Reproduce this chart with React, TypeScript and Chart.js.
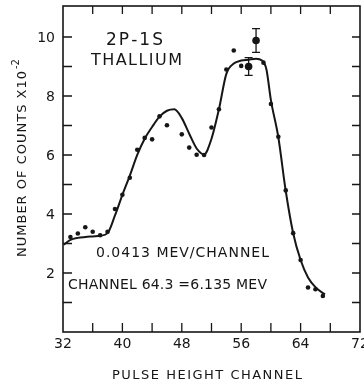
import React, { useEffect, useRef } from "react";
import { Chart, registerables } from "chart.js";

Chart.register(...registerables);

// Measured points (pulse height channel -> counts x 10^-2)
const channels = [33, 34, 35, 36, 37, 38, 39, 40, 41, 42, 43, 44, 45, 46, 48, 49, 50, 51, 52, 53, 54, 55, 56, 59, 60, 61, 62, 63, 64, 65, 66, 67];
const counts = [3.22, 3.34, 3.55, 3.4, 3.28, 3.4, 4.17, 4.65, 5.23, 6.18, 6.58, 6.53, 7.31, 7.01, 6.7, 6.25, 6.01, 6.0, 6.93, 7.55, 8.9, 9.54, 9.02, 9.13, 7.73, 6.62, 4.8, 3.35, 2.44, 1.51, 1.45, 1.22];

// Points drawn with error bars
const errChannels = [57, 58];
const errCounts = [9.0, 9.88];
const errMinus = [0.3, 0.4];
const errPlus = [0.3, 0.4];

// Fitted smooth curve
const curveChannels = [32.1, 33, 34, 35, 36, 37, 38, 39, 40, 41, 42, 43, 44, 45, 46, 47, 48, 49, 50, 51, 52, 53, 54, 55, 56, 57, 58, 58.8, 59.4, 60, 61, 62, 63, 64, 65, 66, 67, 67.3];
const curveCounts = [2.96, 3.12, 3.19, 3.22, 3.24, 3.26, 3.35, 3.95, 4.65, 5.3, 6.0, 6.55, 6.95, 7.3, 7.5, 7.55, 7.25, 6.72, 6.22, 6.02, 6.55, 7.55, 8.75, 9.1, 9.2, 9.23, 9.26, 9.2, 8.9, 7.86, 6.6, 4.78, 3.35, 2.44, 1.85, 1.52, 1.32, 1.28];

// Axes
const xTickValues = [36, 40, 44, 48, 52, 56, 60, 64, 68];
const xLabelValues = [32, 40, 48, 56, 64, 72];
const yTickValues = [1, 2, 3, 4, 5, 6, 7, 8, 9, 10];
const yLabelValues = [2, 4, 6, 8, 10];

const INK = "#161616";
const FONT = "'DejaVu Sans', sans-serif";

function drawSpaced(ctx: CanvasRenderingContext2D, text: string, x: number, y: number, target: number) {
  const chars = Array.from(text);
  let total = 0;
  const widths = chars.map((c) => {
    const w = ctx.measureText(c).width;
    total += w;
    return w;
  });
  const gap = chars.length > 1 ? (target - total) / (chars.length - 1) : 0;
  let cx = x;
  ctx.textAlign = "left";
  chars.forEach((c, i) => {
    ctx.fillText(c, cx, y);
    cx += widths[i] + gap;
  });
}

const decorPlugin = {
  id: "decor",
  afterDraw(chart: any) {
    const ctx: CanvasRenderingContext2D = chart.ctx;
    const xs = chart.scales.x;
    const ys = chart.scales.y;
    const { left, right, top, bottom } = chart.chartArea;
    ctx.save();
    ctx.strokeStyle = INK;
    ctx.fillStyle = INK;

    // frame
    ctx.lineWidth = 1.6;
    ctx.strokeRect(left, top, right - left, bottom - top);

    // inward ticks
    ctx.lineWidth = 1.3;
    ctx.beginPath();
    xTickValues.forEach((v) => {
      const px = xs.getPixelForValue(v);
      ctx.moveTo(px, bottom);
      ctx.lineTo(px, bottom - 9);
      ctx.moveTo(px, top);
      ctx.lineTo(px, top + 8);
    });
    yTickValues.forEach((v) => {
      const py = ys.getPixelForValue(v);
      ctx.moveTo(left, py);
      ctx.lineTo(left + 9, py);
      ctx.moveTo(right, py);
      ctx.lineTo(right - 8, py);
    });
    ctx.stroke();

    // error bars
    ctx.lineWidth = 1.3;
    errChannels.forEach((c, i) => {
      const px = xs.getPixelForValue(c);
      const y1 = ys.getPixelForValue(errCounts[i] + errPlus[i]);
      const y2 = ys.getPixelForValue(errCounts[i] - errMinus[i]);
      ctx.beginPath();
      ctx.moveTo(px, y1);
      ctx.lineTo(px, y2);
      ctx.moveTo(px - 4, y1);
      ctx.lineTo(px + 4, y1);
      ctx.moveTo(px - 4, y2);
      ctx.lineTo(px + 4, y2);
      ctx.stroke();
    });

    // tick labels
    ctx.font = `14px ${FONT}`;
    ctx.textBaseline = "alphabetic";
    ctx.textAlign = "center";
    xLabelValues.forEach((v) => {
      ctx.fillText(String(v), xs.getPixelForValue(v), bottom + 16);
    });
    ctx.textAlign = "right";
    yLabelValues.forEach((v) => {
      ctx.fillText(String(v), left - 8, ys.getPixelForValue(v) + 5);
    });

    // x axis title
    ctx.font = `13px ${FONT}`;
    drawSpaced(ctx, "PULSE HEIGHT CHANNEL", 112, 379, 190);

    // y axis title (rotated)
    ctx.save();
    ctx.translate(26, 257);
    ctx.rotate(-Math.PI / 2);
    ctx.font = `13px ${FONT}`;
    drawSpaced(ctx, "NUMBER OF COUNTS X10", 0, 0, 186);
    ctx.font = `10px ${FONT}`;
    ctx.textAlign = "left";
    ctx.fillText("-2", 188, -7);
    ctx.restore();

    // annotations
    ctx.font = `17px ${FONT}`;
    drawSpaced(ctx, "2P-1S", 106, 45, 57);
    ctx.font = `16px ${FONT}`;
    drawSpaced(ctx, "THALLIUM", 91, 65, 91);
    ctx.font = `14px ${FONT}`;
    drawSpaced(ctx, "0.0413 MEV/CHANNEL", 96, 257, 173);
    drawSpaced(ctx, "CHANNEL 64.3 =6.135 MEV", 68, 289, 199);

    ctx.restore();
  },
};

export default function App() {
  const ref = useRef<HTMLCanvasElement | null>(null);

  useEffect(() => {
    document.body.style.margin = "0";
    const canvas = ref.current;
    if (!canvas) return;
    const chart = new Chart(canvas, {
      type: "scatter",
      data: {
        datasets: [
          {
            label: "curve",
            data: curveChannels.map((c, i) => ({ x: c, y: curveCounts[i] })),
            showLine: true,
            borderColor: INK,
            borderWidth: 2,
            pointRadius: 0,
            cubicInterpolationMode: "monotone",
            fill: false,
          } as any,
          {
            label: "points",
            data: channels.map((c, i) => ({ x: c, y: counts[i] })),
            backgroundColor: INK,
            borderColor: INK,
            pointRadius: 2.3,
            borderWidth: 0,
          },
          {
            label: "error points",
            data: errChannels.map((c, i) => ({ x: c, y: errCounts[i] })),
            backgroundColor: INK,
            borderColor: INK,
            pointRadius: 3.8,
            borderWidth: 0,
          },
        ],
      },
      options: {
        responsive: false,
        animation: false,
        events: [],
        layout: { padding: { top: 6, right: 3, left: 0, bottom: 0 } },
        plugins: {
          legend: { display: false },
          tooltip: { enabled: false },
          title: { display: false },
        },
        scales: {
          x: {
            type: "linear",
            min: 32,
            max: 72,
            grid: { display: false },
            border: { display: false },
            ticks: { display: false },
            afterFit: (s: any) => {
              s.height = 53;
            },
          },
          y: {
            type: "linear",
            min: 0,
            max: 11.05,
            grid: { display: false },
            border: { display: false },
            ticks: { display: false },
            afterFit: (s: any) => {
              s.width = 63;
            },
          },
        },
      },
      plugins: [decorPlugin],
    });
    return () => chart.destroy();
  }, []);

  return (
    <div style={{ width: 364, height: 385 }}>
      <canvas ref={ref} width={364} height={385} />
    </div>
  );
}
